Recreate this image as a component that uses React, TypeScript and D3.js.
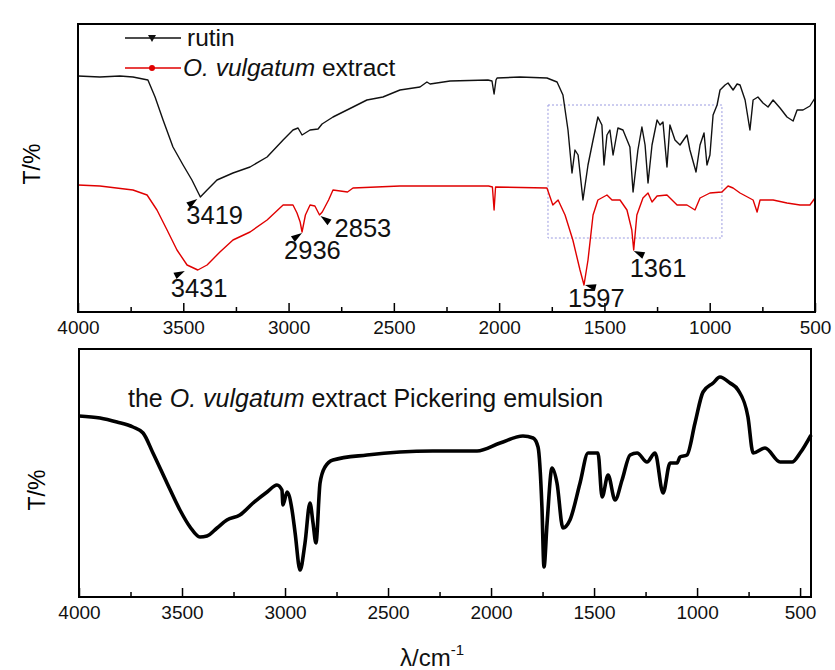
import * as d3 from 'd3';
import React, { FC, useEffect, useRef } from 'react';

// wavenumbers (cm-1) and transmittance (arbitrary units, offset)
const rutinWn = [
  4000, 3896, 3801, 3739, 3668, 3634, 3596, 3549, 3501, 3459, 3419, 3387, 3340, 3264, 3183, 3102, 3026,
  2979, 2955, 2936, 2898, 2860, 2841, 2789, 2694, 2628, 2552, 2471, 2376, 2343, 2328, 2233, 2053, 2034,
  2024, 2015, 2010, 1901, 1773, 1725, 1697, 1673, 1654, 1640, 1625, 1602, 1578, 1554, 1531, 1512, 1502,
  1488, 1474, 1459, 1436, 1412, 1379, 1364, 1341, 1322, 1307, 1293, 1274, 1250, 1236, 1222, 1203, 1189,
  1165, 1141, 1108, 1094, 1065, 1046, 1027, 1013, 999, 984, 965, 951, 927, 913, 889, 870, 856, 832, 809,
  794, 771, 747, 723, 699, 666, 633, 604, 585, 557, 524, 500
];
const rutinT = [
  236, 235, 236, 235, 232, 215, 192, 165, 147, 132, 115, 122, 132, 139, 145, 155, 172,
  182, 184, 177, 182, 183, 188, 195, 205, 212, 215, 222, 225, 230, 228, 231, 232, 231,
  218, 232, 234, 235, 234, 230, 217, 182, 139, 162, 157, 112, 147, 172, 195, 187, 147,
  177, 182, 157, 184, 182, 165, 120, 162, 185, 167, 129, 167, 192, 187, 190, 145, 187,
  172, 167, 177, 162, 140, 167, 179, 147, 157, 197, 207, 222, 227, 229, 222, 228, 227, 212, 182,
  212, 215, 209, 205, 212, 204, 195, 191, 202, 202, 206, 214
];

const extractWn = [
  4000, 3896, 3739, 3672, 3625, 3577, 3530, 3482, 3431, 3387, 3326, 3264, 3183, 3102, 3026, 2979,
  2960, 2945, 2936, 2920, 2898, 2875, 2853, 2840, 2810, 2789, 2720, 2694, 2471, 2050, 2032, 2024,
  2017, 1773, 1745, 1720, 1687, 1650, 1616, 1597, 1578, 1554, 1531, 1488, 1464, 1426, 1393, 1370,
  1361, 1346, 1317, 1293, 1274, 1250, 1203, 1155, 1108, 1070, 1046, 999, 942, 913, 889, 856, 794,
  775, 761, 699, 633, 571, 524, 500
];
const extractT = [
  127, 126, 122, 117, 102, 82, 62, 47, 42, 47, 60, 72, 80, 92, 107, 107,
  99, 90, 80, 97, 107, 106, 97, 100, 112, 122, 120, 124, 126, 126, 125, 102,
  125, 124, 107, 112, 97, 72, 42, 27, 52, 97, 112, 117, 112, 112, 102, 82,
  62, 97, 114, 119, 110, 116, 117, 107, 107, 102, 114, 119, 120, 126, 124, 119, 112,
  100, 112, 112, 109, 107, 107, 114
];

const emulsionWn = [
  4000, 3898, 3816, 3738, 3689, 3641, 3573, 3510, 3461, 3413, 3379, 3330, 3282, 3219, 3155, 3087,
  3039, 3015, 3010, 2990, 2966, 2951, 2927, 2903, 2879, 2864, 2850, 2830, 2806, 2767, 2602, 2442,
  2282, 2068, 1956, 1845, 1796, 1772, 1753, 1743, 1728, 1704, 1680, 1651, 1617, 1568, 1529, 1481,
  1461, 1432, 1398, 1364, 1325, 1291, 1243, 1204, 1165, 1131, 1097, 1083, 1049, 1010, 971, 922,
  889, 840, 801, 753, 728, 670, 597, 539, 500, 447
];
const emulsionT = [
  181, 179, 175, 170, 164, 144, 114, 87, 70, 60, 61, 69, 77, 82, 94, 105,
  112, 107, 92, 105, 87, 64, 27, 54, 94, 74, 54, 114, 130, 137, 142, 145,
  146, 146, 154, 161, 159, 150, 90, 30, 74, 129, 114, 69, 77, 114, 144, 144,
  100, 122, 97, 117, 142, 144, 135, 144, 104, 134, 134, 140, 142, 174, 205, 214,
  220, 214, 207, 180, 144, 149, 135, 135, 144, 162
];

const majorTicks = [4000, 3500, 3000, 2500, 2000, 1500, 1000, 500];
const minorTicks = [3750, 3250, 2750, 2250, 1750, 1250, 750];

const peakLabels = ['3419', '3431', '2936', '2853', '1597', '1361'];
const peakWn = [3419, 3431, 2936, 2853, 1597, 1361];
const peakSeries = ['rutin', 'extract', 'extract', 'extract', 'extract', 'extract'];

// zoomed region marked on the top panel
const boxWn = [1768, 942];
const boxT = [74, 207];

// placement of the peak arrows / labels, pixels relative to the peak
const peakLayout = [
  { tip: [-3, 2], dir: [-10, 7], text: [-14, 27] },
  { tip: [-13, 1], dir: [-12, 6], text: [-27, 27] },
  { tip: [0, 1], dir: [-9, 6], text: [-18, 27] },
  { tip: [1, 1], dir: [10, 7], text: [15, 22] },
  { tip: [1, 0], dir: [12, 3], text: [-16, 22] },
  { tip: [0, 1], dir: [11, 5], text: [-4, 27] }
];

const FONT = "Arial, 'Liberation Sans', sans-serif";
const RED = '#e00000';

const App: FC = (): JSX.Element => {
  const ref = useRef<SVGSVGElement>(null);

  useEffect(() => {
    const svg = d3.select(ref.current);
    svg.selectAll('*').remove();

    const xTop = d3.scaleLinear().domain([4000, 500]).range([78, 815]);
    const yTop = d3.scaleLinear().domain([0, 288]).range([312, 24]);
    const xBot = d3.scaleLinear().domain([4000, 447]).range([79, 811]);
    const yBot = d3.scaleLinear().domain([0, 248]).range([597, 349]);

    const drawAxis = (x: d3.ScaleLinear<number, number>, y0: number) => {
      const major = svg
        .append('g')
        .attr('transform', `translate(0, ${y0})`)
        .call(d3.axisBottom(x).tickValues(majorTicks).tickSize(-9).tickPadding(9).tickFormat(d3.format('d')));
      major.select('.domain').remove();
      major.selectAll('line').attr('stroke', '#000').attr('stroke-width', 1.5);
      major.selectAll('text').attr('font-family', FONT).attr('font-size', 19).attr('fill', '#111');

      const minor = svg
        .append('g')
        .attr('transform', `translate(0, ${y0})`)
        .call(d3.axisBottom(x).tickValues(minorTicks).tickSize(-5).tickFormat(() => ''));
      minor.select('.domain').remove();
      minor.selectAll('line').attr('stroke', '#000').attr('stroke-width', 1.5);
    };

    const frame = (x: d3.ScaleLinear<number, number>, y: d3.ScaleLinear<number, number>) => {
      const [x0, x1] = x.range();
      const [y0, y1] = y.range();
      svg
        .append('rect')
        .attr('x', x0)
        .attr('y', y1)
        .attr('width', x1 - x0)
        .attr('height', y0 - y1)
        .attr('fill', 'none')
        .attr('stroke', '#000')
        .attr('stroke-width', 2);
    };

    const rutinPts = rutinWn.map((w, i) => [w, rutinT[i]] as [number, number]);
    const extractPts = extractWn.map((w, i) => [w, extractT[i]] as [number, number]);
    const emulsionPts = emulsionWn.map((w, i) => [w, emulsionT[i]] as [number, number]);

    // ---------- top panel ----------
    drawAxis(xTop, 312);

    svg
      .append('rect')
      .attr('x', xTop(boxWn[0]))
      .attr('y', yTop(boxT[1]))
      .attr('width', xTop(boxWn[1]) - xTop(boxWn[0]))
      .attr('height', yTop(boxT[0]) - yTop(boxT[1]))
      .attr('fill', 'none')
      .attr('stroke', '#9a9ae0')
      .attr('stroke-width', 1)
      .attr('stroke-dasharray', '2,2');

    const topLine = d3
      .line<[number, number]>()
      .x((d) => xTop(d[0]))
      .y((d) => yTop(d[1]));

    svg
      .append('path')
      .attr('d', topLine(rutinPts))
      .attr('fill', 'none')
      .attr('stroke', '#111')
      .attr('stroke-width', 1.4)
      .attr('stroke-linejoin', 'round');

    svg
      .append('path')
      .attr('d', topLine(extractPts))
      .attr('fill', 'none')
      .attr('stroke', RED)
      .attr('stroke-width', 1.4)
      .attr('stroke-linejoin', 'round');

    frame(xTop, yTop);

    // legend
    const leg = svg.append('g').attr('font-family', FONT).attr('font-size', 24.5).attr('fill', '#111');
    leg.append('line').attr('x1', 125).attr('x2', 181).attr('y1', 38).attr('y2', 38).attr('stroke', '#111').attr('stroke-width', 1.4);
    leg.append('path').attr('d', 'M148,35 L156,35 L152,42 Z').attr('fill', '#111');
    leg.append('text').attr('x', 187).attr('y', 46).text('rutin');
    leg.append('line').attr('x1', 125).attr('x2', 181).attr('y1', 68).attr('y2', 68).attr('stroke', RED).attr('stroke-width', 1.4);
    leg.append('circle').attr('cx', 152).attr('cy', 68).attr('r', 3).attr('fill', RED);
    const t2 = leg.append('text').attr('x', 183).attr('y', 76);
    t2.append('tspan').attr('font-style', 'italic').text('O. vulgatum');
    t2.append('tspan').text(' extract');

    // peak annotations
    peakLabels.forEach((label, i) => {
      const xs = peakSeries[i] === 'rutin' ? rutinWn : extractWn;
      const ys = peakSeries[i] === 'rutin' ? rutinT : extractT;
      const v = ys[xs.indexOf(peakWn[i])];
      const px = xTop(peakWn[i]);
      const py = yTop(v);
      const lay = peakLayout[i];
      const tx = px + lay.tip[0];
      const ty = py + lay.tip[1];
      const len = Math.hypot(lay.dir[0], lay.dir[1]);
      const ux = lay.dir[0] / len;
      const uy = lay.dir[1] / len;
      const bx = tx + ux * 11;
      const by = ty + uy * 11;
      svg
        .append('path')
        .attr('d', `M${tx},${ty} L${bx - uy * 3.5},${by + ux * 3.5} L${bx + uy * 3.5},${by - ux * 3.5} Z`)
        .attr('fill', '#000');
      svg
        .append('text')
        .attr('x', px + lay.text[0])
        .attr('y', py + lay.text[1])
        .attr('font-family', FONT)
        .attr('font-size', 25.5)
        .attr('fill', '#111')
        .text(label);
    });

    svg
      .append('text')
      .attr('transform', 'translate(40, 164) rotate(-90)')
      .attr('text-anchor', 'middle')
      .attr('font-family', FONT)
      .attr('font-size', 23)
      .text('T/%');

    // ---------- bottom panel ----------
    drawAxis(xBot, 597);

    const botLine = d3
      .line<[number, number]>()
      .x((d) => xBot(d[0]))
      .y((d) => yBot(d[1]))
      .curve(d3.curveMonotoneX);

    svg
      .append('path')
      .attr('d', botLine(emulsionPts))
      .attr('fill', 'none')
      .attr('stroke', '#000')
      .attr('stroke-width', 3.6)
      .attr('stroke-linejoin', 'round');

    frame(xBot, yBot);

    const title = svg
      .append('text')
      .attr('x', 128)
      .attr('y', 407)
      .attr('font-family', FONT)
      .attr('font-size', 25)
      .attr('fill', '#111');
    title.append('tspan').text('the ');
    title.append('tspan').attr('font-style', 'italic').text('O. vulgatum');
    title.append('tspan').text(' extract Pickering emulsion');

    svg
      .append('text')
      .attr('transform', 'translate(45, 490) rotate(-90)')
      .attr('text-anchor', 'middle')
      .attr('font-family', FONT)
      .attr('font-size', 23)
      .text('T/%');

    const xt = svg
      .append('text')
      .attr('x', 400)
      .attr('y', 666)
      .attr('font-family', FONT)
      .attr('font-size', 24)
      .attr('fill', '#111');
    xt.append('tspan').text('λ/cm');
    xt.append('tspan').attr('dy', -11).attr('font-size', 15).text('-1');
  }, []);

  return (
    <svg
      ref={ref}
      width={835}
      height={670}
      style={{ position: 'absolute', left: 0, top: 0, background: '#fff' }}
    />
  );
};

export default App;
